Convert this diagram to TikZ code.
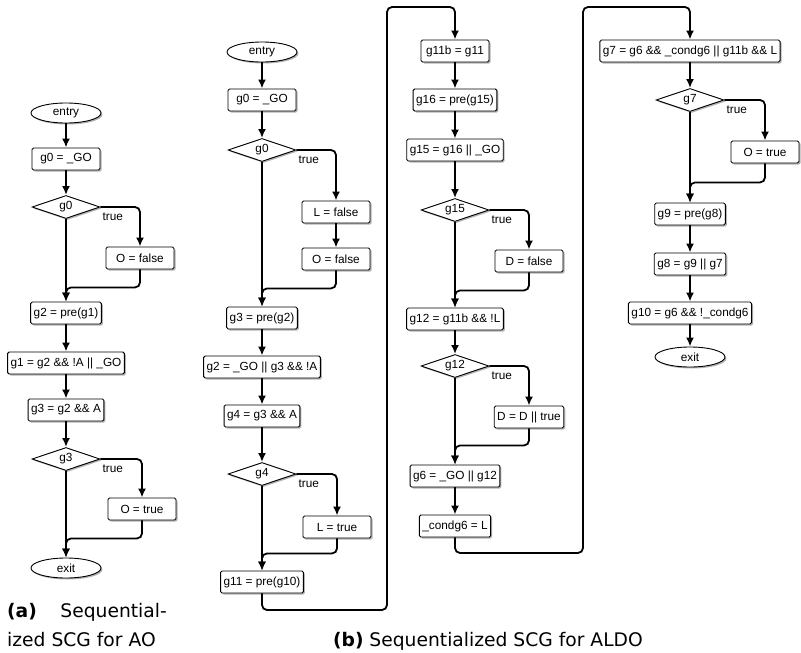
\documentclass[tikz,border=0pt]{standalone}
\usepackage{fontspec}
\setmainfont{Liberation Sans}
\newfontfamily\capfont{DejaVu Sans}
\usetikzlibrary{shapes.geometric,shadows,arrows.meta,calc}

\tikzset{
  dfont/.style={font=\fontsize{11.8}{13}\selectfont},
  shad/.style={drop shadow={shadow xshift=1.5pt,shadow yshift=-1.5pt,opacity=0.3,fill=black}},
  stmt/.style={draw, line width=0.9pt, rounded corners=1.5pt, fill=white,
    minimum width=68pt, minimum height=22pt, inner xsep=3pt, inner ysep=0pt, dfont, shad},
  cond/.style={draw, diamond, aspect=3, line width=0.9pt, fill=white,
    minimum width=68pt, minimum height=23pt, inner sep=0pt, dfont, shad},
  term/.style={draw, ellipse, line width=0.9pt, fill=white,
    minimum width=70pt, minimum height=20pt, inner sep=0pt, dfont, shad},
  flow/.style={line width=1.8pt, -{Latex[length=9pt,width=8pt]}, rounded corners=5pt},
  tlabel/.style={dfont, anchor=west, inner sep=0pt},
  captext/.style={font=\capfont\fontsize{18.7}{23}\selectfont, inner sep=0pt},
}

\begin{document}
\begin{tikzpicture}[x=1pt,y=-1pt]
\useasboundingbox (0,0) rectangle (801,653);

% ---------- panel (a) ----------
\node[term] (aEntry) at (66,113) {entry};
\node[stmt] (aG0) at (66,159) {g0 = \_GO};
\node[cond] (aD0) at (66,207) {g0};
\node[stmt] (aOf) at (140,258) {O = false};
\node[stmt] (aG2) at (66,313) {g2 = pre(g1)};
\node[stmt] (aG1) at (66,363) {g1 = g2 \&\& !A || \_GO};
\node[stmt] (aG3) at (66,410) {g3 = g2 \&\& A};
\node[cond] (aD3) at (66,459) {g3};
\node[stmt] (aOt) at (142,509) {O = true};
\node[term] (aExit) at (66,568) {exit};
\node[tlabel] (aT0) at ($(aD0.east)+(2,10)$) {true};
\node[tlabel] (aT3) at ($(aD3.east)+(2,10)$) {true};

\draw[flow] (aEntry) -- (aG0);
\draw[flow] (aG0) -- (aD0);
\draw[flow] (aD0.east) -| (aOf.north);
\draw[flow] (aD0.south) -- (aG2.north);
\draw[flow] (aOf.south) -- ++(0,18) -| (aG2.north);
\draw[flow] (aG2) -- (aG1);
\draw[flow] (aG1) -- (aG3);
\draw[flow] (aG3) -- (aD3);
\draw[flow] (aD3.east) -| (aOt.north);
\draw[flow] (aD3.south) -- (aExit.north);
\draw[flow] (aOt.south) -- ++(0,18) -| (aExit.north);

% ---------- panel (b), column 1 ----------
\node[term] (bEntry) at (262,52) {entry};
\node[stmt] (bG0) at (262,100) {g0 = \_GO};
\node[cond] (bD0) at (262,150) {g0};
\node[stmt] (bLf) at (336,212) {L = false};
\node[stmt] (bOf) at (336,259) {O = false};
\node[stmt] (bG3) at (262,318) {g3 = pre(g2)};
\node[stmt] (bG2) at (262,367) {g2 = \_GO || g3 \&\& !A};
\node[stmt] (bG4) at (262,416) {g4 = g3 \&\& A};
\node[cond] (bD4) at (262,474) {g4};
\node[stmt] (bLt) at (337,527) {L = true};
\node[stmt] (bG11) at (262,582) {g11 = pre(g10)};
\node[tlabel] (bT0) at ($(bD0.east)+(2,10)$) {true};
\node[tlabel] (bT4) at ($(bD4.east)+(2,10)$) {true};

\draw[flow] (bEntry) -- (bG0);
\draw[flow] (bG0) -- (bD0);
\draw[flow] (bD0.east) -| (bLf.north);
\draw[flow] (bLf) -- (bOf);
\draw[flow] (bD0.south) -- (bG3.north);
\draw[flow] (bOf.south) -- ++(0,18) -| (bG3.north);
\draw[flow] (bG3) -- (bG2);
\draw[flow] (bG2) -- (bG4);
\draw[flow] (bG4) -- (bD4);
\draw[flow] (bD4.east) -| (bLt.north);
\draw[flow] (bD4.south) -- (bG11.north);
\draw[flow] (bLt.south) -- ++(0,15) -| (bG11.north);

% ---------- panel (b), column 2 ----------
\node[stmt] (cG11b) at (455,51) {g11b = g11};
\node[stmt] (cG16) at (455,100) {g16 = pre(g15)};
\node[stmt] (cG15) at (455,150) {g15 = g16 || \_GO};
\node[cond] (cD15) at (455,210) {g15};
\node[stmt] (cDf) at (529,261) {D = false};
\node[stmt] (cG12) at (455,319) {g12 = g11b \&\& !L};
\node[cond] (cD12) at (455,366) {g12};
\node[stmt] (cDD) at (529,417) {D = D || true};
\node[stmt] (cG6) at (455,476) {g6 = \_GO || g12};
\node[stmt] (cCond) at (455,526) {\_condg6 = L};
\node[tlabel] (cT15) at ($(cD15.east)+(2,10)$) {true};
\node[tlabel] (cT12) at ($(cD12.east)+(2,10)$) {true};

\coordinate (ra) at (387,610);
\coordinate (rb) at (387,7);
\draw[flow] (bG11.south) |- (ra) -- (rb) -| (cG11b.north);

\draw[flow] (cG11b) -- (cG16);
\draw[flow] (cG16) -- (cG15);
\draw[flow] (cG15) -- (cD15);
\draw[flow] (cD15.east) -| (cDf.north);
\draw[flow] (cD15.south) -- (cG12.north);
\draw[flow] (cDf.south) -- ++(0,18) -| (cG12.north);
\draw[flow] (cG12) -- (cD12);
\draw[flow] (cD12.east) -| (cDD.north);
\draw[flow] (cD12.south) -- (cG6.north);
\draw[flow] (cDD.south) -- ++(0,17) -| (cG6.north);
\draw[flow] (cG6) -- (cCond);

% ---------- panel (b), column 3 ----------
\node[stmt] (dG7) at (690,51) {g7 = g6 \&\& \_condg6 || g11b \&\& L};
\node[cond] (dD7) at (690,100) {g7};
\node[stmt] (dOt) at (765,152) {O = true};
\node[stmt] (dG9) at (690,214) {g9 = pre(g8)};
\node[stmt] (dG8) at (690,264) {g8 = g9 || g7};
\node[stmt] (dG10) at (690,313) {g10 = g6 \&\& !\_condg6};
\node[term] (dExit) at (690,357) {exit};
\node[tlabel] (dT7) at ($(dD7.east)+(2,10)$) {true};

\coordinate (rc) at (583,553);
\coordinate (rd) at (583,7);
\draw[flow] (cCond.south) |- (rc) -- (rd) -| (dG7.north);

\draw[flow] (dG7) -- (dD7);
\draw[flow] (dD7.east) -| (dOt.north);
\draw[flow] (dD7.south) -- (dG9.north);
\draw[flow] (dOt.south) -- ++(0,19) -| (dG9.north);
\draw[flow] (dG9) -- (dG8);
\draw[flow] (dG8) -- (dG10);
\draw[flow] (dG10) -- (dExit);

% ---------- captions ----------
\node[captext, anchor=base west] (capA1) at (7,617) {\bfseries (a)};
\node[captext, anchor=base east] (capA2) at (167,617) {Sequential-};
\node[captext, anchor=base west] (capA3) at (7,646) {ized SCG for AO};
\node[captext, anchor=base east] (capB) at (643,646) {{\bfseries (b)} Sequentialized SCG for ALDO};
\end{tikzpicture}
\end{document}
